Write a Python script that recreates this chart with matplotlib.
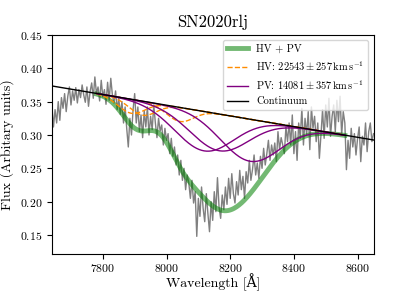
#Ca II NIR triplet fit for SN2020rlj

import numpy as np
import matplotlib
matplotlib.use('Agg')
import matplotlib.pyplot as plt

plt.rcParams['font.family'] = ['cmr10', 'DejaVu Serif']
plt.rcParams['mathtext.fontset'] = 'cm'
plt.rcParams['axes.formatter.use_mathtext'] = True

# observed spectrum, 5 A steps from 7640 A
wave_start = 7640
wave_step = 5
flux = [
    0.345, 0.312, 0.338, 0.318, 0.350, 0.322, 0.356, 0.340, 0.362, 0.335,
    0.358, 0.372, 0.345, 0.366, 0.352, 0.371, 0.348, 0.368, 0.356, 0.375,
    0.360, 0.349, 0.372, 0.343, 0.365, 0.378, 0.355, 0.387, 0.362, 0.372,
    0.351, 0.382, 0.357, 0.368, 0.346, 0.379, 0.352, 0.385, 0.360, 0.348,
    0.366, 0.338, 0.355, 0.331, 0.350, 0.318, 0.342, 0.310, 0.282, 0.325,
    0.300, 0.338, 0.362, 0.318, 0.342, 0.305, 0.330, 0.296, 0.336, 0.312,
    0.342, 0.300, 0.328, 0.308, 0.345, 0.318, 0.296, 0.325, 0.306, 0.315,
    0.285, 0.310, 0.292, 0.302, 0.272, 0.295, 0.268, 0.282, 0.255, 0.270,
    0.240, 0.262, 0.232, 0.250, 0.218, 0.240, 0.228, 0.205, 0.232, 0.198,
    0.215, 0.148, 0.205, 0.178, 0.222, 0.190, 0.170, 0.212, 0.182, 0.155,
    0.200, 0.172, 0.215, 0.185, 0.236, 0.192, 0.175, 0.210, 0.188, 0.222,
    0.196, 0.235, 0.205, 0.242, 0.212, 0.198, 0.230, 0.210, 0.247, 0.218,
    0.238, 0.205, 0.245, 0.228, 0.262, 0.232, 0.248, 0.270, 0.240, 0.258,
    0.235, 0.268, 0.250, 0.280, 0.255, 0.272, 0.292, 0.262, 0.285, 0.270,
    0.288, 0.260, 0.305, 0.278, 0.296, 0.285, 0.272, 0.312, 0.290, 0.318,
    0.285, 0.330, 0.272, 0.305, 0.262, 0.318, 0.295, 0.340, 0.285, 0.325,
    0.300, 0.335, 0.278, 0.342, 0.310, 0.328, 0.290, 0.318, 0.265, 0.300,
    0.338, 0.295, 0.345, 0.312, 0.355, 0.298, 0.328, 0.345, 0.305, 0.352,
    0.320, 0.358, 0.300, 0.335, 0.318, 0.248, 0.292, 0.265, 0.310, 0.282,
    0.302, 0.270, 0.295, 0.312, 0.260, 0.298, 0.285, 0.318, 0.275, 0.305,
    0.318, 0.290, 0.302,
]

# linear continuum end points
cont_wave = [7640, 8650]
cont_flux = [0.3735, 0.2925]

# gaussian components (centre, depth, sigma) for the three Ca II lines
hv_centres = [7890, 7925, 8042]
hv_depths = [0.021, 0.021, 0.021]
hv_sigma = 42
pv_centres = [8118, 8165, 8262]
pv_depths = [0.059, 0.055, 0.063]
pv_sigma = 92
fit_range = [7780, 8560]

wave = wave_start + wave_step * np.arange(len(flux))
wfit = np.linspace(fit_range[0], fit_range[1], 400)
cfit = np.interp(wfit, cont_wave, cont_flux)

def gauss(w, c, d, s):
    return d * np.exp(-0.5 * ((w - c) / s) ** 2)

hv_comps = [gauss(wfit, c, d, hv_sigma) for c, d in zip(hv_centres, hv_depths)]
pv_comps = [gauss(wfit, c, d, pv_sigma) for c, d in zip(pv_centres, pv_depths)]
total = cfit - sum(hv_comps) - sum(pv_comps)

fig, ax = plt.subplots(figsize=(4.15, 2.91), dpi=100)
fig.subplots_adjust(left=0.125, right=0.9, bottom=0.127, top=0.88)
ax.plot(wave, flux, color='grey', lw=1)
ax.plot(wfit, total, color='green', lw=3.5, alpha=0.55, label='HV + PV')
for i, g in enumerate(hv_comps):
    ax.plot(wfit, cfit - g, color='darkorange', ls='--', lw=1,
            label=r'HV: $22543 \pm 257\,\mathrm{km\,s^{-1}}$' if i == 0 else None)
for i, g in enumerate(pv_comps):
    ax.plot(wfit, cfit - g, color='purple', lw=1,
            label=r'PV: $14081 \pm 357\,\mathrm{km\,s^{-1}}$' if i == 0 else None)
ax.plot(cont_wave, cont_flux, color='black', lw=1, label='Continuum')

ax.set_xlim(7640, 8650)
ax.set_ylim(0.1215, 0.45)
ax.set_xticks([7800, 8000, 8200, 8400, 8600])
ax.set_yticks([0.15, 0.20, 0.25, 0.30, 0.35, 0.40, 0.45])
ax.tick_params(labelsize=8.5)
ax.tick_params(axis='x', pad=2)
ax.set_xlabel('Wavelength [Å]', fontsize=10, labelpad=0)
ax.set_ylabel('Flux (Arbitary units)', fontsize=10)
ax.set_title('SN2020rlj', fontsize=12)
ax.legend(loc='upper right', fontsize=7.5)
fig.savefig('out.png', dpi=100)
plt.close()
